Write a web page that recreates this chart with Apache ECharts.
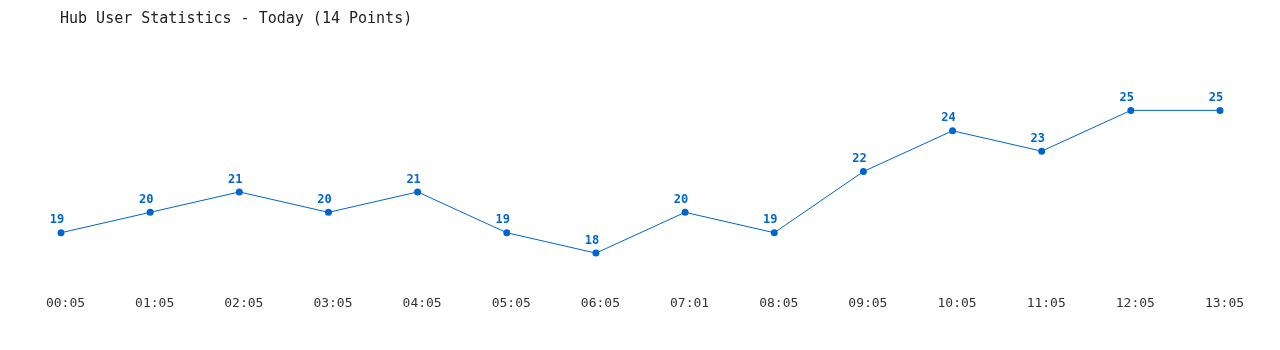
<!DOCTYPE html>
<html>
<head>
<meta charset="utf-8">
<script src="https://cdn.jsdelivr.net/npm/echarts@6/dist/echarts.min.js"></script>
<style>html,body{margin:0;padding:0;background:#fff}#c{width:1280px;height:350px}</style>
</head>
<body>
<div id="c"></div>
<script>
const titleText = "Hub User Statistics - Today (14 Points)";
const categories = ["00:05","01:05","02:05","03:05","04:05","05:05","06:05","07:01","08:05","09:05","10:05","11:05","12:05","13:05"];
const users = [19,20,21,20,21,19,18,20,19,22,24,23,25,25];

const chart = echarts.init(document.getElementById('c'));
chart.setOption({
  animation: false,
  backgroundColor: '#ffffff',
  title: {
    text: titleText,
    left: 60, top: 12, padding: 0,
    textStyle: { fontFamily: 'DejaVu Sans Mono', fontSize: 15, fontWeight: 'normal', color: '#222' }
  },
  grid: { left: 61, right: 60, top: 90, bottom: 76.5 },
  xAxis: {
    type: 'category',
    data: categories,
    boundaryGap: false,
    axisLine: { show: false },
    axisTick: { show: false },
    splitLine: { show: false },
    axisLabel: { margin: 24, padding: [0, 0, 0, 9], fontFamily: 'DejaVu Sans Mono', fontSize: 13, color: '#333' }
  },
  yAxis: {
    type: 'value', min: 17, max: 26, show: false, splitLine: { show: false }
  },
  series: [{
    type: 'line',
    data: users,
    symbol: 'circle',
    symbolSize: 7,
    lineStyle: { color: '#0066cc', width: 1 },
    itemStyle: { color: '#0066cc' },
    label: {
      show: true, position: 'top', distance: 3, offset: [-4, 0],
      fontFamily: 'DejaVu Sans Mono', fontSize: 12, fontWeight: 'bold', color: '#0066cc'
    }
  }]
});
</script>
</body>
</html>
